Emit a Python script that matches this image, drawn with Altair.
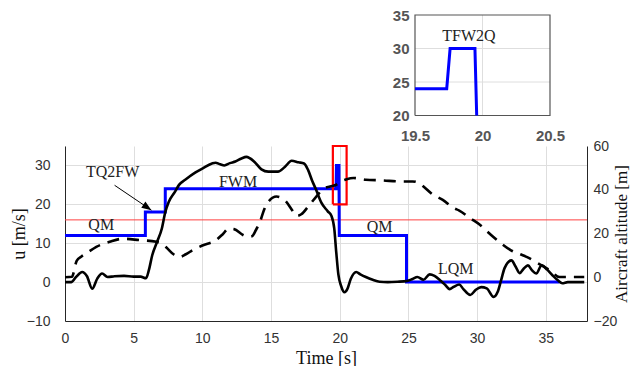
import altair as alt
import pandas as pd

# ---------------- data ----------------
# Airspeed u [m/s] (left axis, solid black)
u_t = [0, 0.45, 0.8, 1.25, 1.6, 1.98, 2.35, 2.7, 3.1, 3.6, 4.3, 5.0, 5.5, 5.9, 6.1, 6.35, 6.7, 7.05,
       7.3, 7.55, 8.0, 8.3, 8.75, 9.5, 10.0, 10.7, 10.95, 11.3, 11.6, 12.0, 12.4, 12.85, 13.2, 13.8,
       14.3, 14.8, 15.5, 16.0, 16.5, 17.0, 17.4, 17.7, 18.0, 18.25, 18.65, 19.13, 19.4, 19.6, 19.75,
       19.9, 20.1, 20.35, 20.55, 20.8, 21.2, 21.5, 21.9, 22.4, 22.9, 23.5, 24.2, 24.9, 25.3, 25.65,
       26.1, 26.55, 26.9, 27.3, 27.7, 28.0, 28.3, 28.7, 29.0, 29.5, 29.9, 30.3, 30.7, 31.2, 31.5,
       31.75, 32.0, 32.5, 32.8, 33.1, 33.4, 33.7, 34.0, 34.3, 34.7, 35.1, 35.5, 35.9, 36.2, 36.6, 37.8]
u_v = [0, 0, 1.3, 2.6, 1.5, -1.7, 0.9, 2.2, 1.3, 1.5, 1.6, 1.4, 1.4, 1.0, 3.0, 6.9, 10.3, 13.8,
       18.0, 20.6, 23.2, 25.0, 26.3, 28.2, 29.2, 30.5, 30.7, 30.3, 30.0, 30.6, 31.0, 31.8, 32.2, 30.9,
       29.0, 28.4, 28.4, 29.6, 31.2, 30.8, 30.5, 28.8, 26.0, 24.0, 20.5, 18.2, 17.0, 13.8, 7.5,
       2.0, -1.0, -2.6, -1.8, 0.8, 2.6, 2.0, 1.3, 0.6, 0.1, 0.0, 0.1, 0.3, 0.8, 1.3,
       0.6, 2.0, 1.6, 0.5, -0.8, -1.8, -1.2, -0.6, -1.8, -3.3, -2.0, -1.3, -1.6, -3.8, -2.5,
       0.5, 3.6, 5.6, 4.0, 2.3, 3.5, 4.3, 3.0, 2.2, 4.3, 3.2, 1.7, 0.4, -0.3, 0.0, 0.0]

# Aircraft altitude [m] (right axis, dashed black)
h_t = [0, 0.5, 0.85, 1.2, 1.55, 2.28, 3.25, 4.2, 5.4, 6.65, 7.0, 7.4, 7.9, 8.35, 8.8, 9.3, 10.0,
       11.0, 11.5, 11.9, 12.3, 12.96, 13.3, 13.6, 13.9, 14.2, 14.5, 14.8, 15.4, 15.7, 16.1, 16.5,
       16.85, 17.2, 17.7, 18.4, 18.8, 19.3, 19.75, 20.1, 20.5, 21.0, 21.9, 23.1, 24.4, 25.3, 25.8,
       26.1, 26.8, 27.5, 28.3, 28.7, 29.5, 30.2, 30.9, 31.65, 32.5, 33.1, 33.6, 34.6, 35.3, 36.0, 37.8]
h_v = [0, 0.2, 7.5, 9.5, 10.9, 13.9, 16.2, 17.6, 17.0, 16.2, 15.5, 13.5, 10.5, 9.3, 10.5, 12.4, 14.5,
       17.0, 19.8, 22.2, 22.0, 19.3, 18.5, 18.7, 21.6, 25.4, 31.0, 34.5, 36.9, 36.5, 34.6, 31.0,
       28.0, 28.8, 32.3, 37.7, 40.5, 41.5, 42.3, 43.8, 44.8, 45.4, 44.6, 44.3, 43.8, 43.8, 43.0,
       41.5, 37.7, 35.4, 31.6, 30.5, 27.0, 24.0, 20.0, 16.0, 12.2, 10.6, 9.3, 5.8, 3.2, 0.1, 0.1]

# Mode reference speed (blue step)
m_t = [0, 5.85, 5.85, 7.3, 7.3, 19.735, 19.76, 19.944, 19.967, 24.86, 24.86, 36.0]
m_v = [12, 12, 18, 18, 24, 24, 30, 30, 12, 12, 0, 0]

# Inset (zoom of the transition)
ins_t = [19.5, 19.735, 19.76, 19.944, 19.957]
ins_v = [24, 24, 30, 30, 20]

threshold_u = 16
box_t = [19.5, 20.5, 20.5, 19.5, 19.5]
box_u = [20, 20, 35, 35, 20]

label_text = ["QM", "TQ2FW", "FWM", "QM", "LQM"]
label_t = [2.64, 3.47, 12.6, 22.9, 28.45]
label_u = [14.6, 28.4, 25.8, 14.2, 3.5]

arrow_t = [3.61, 6.29]
arrow_u = [24.9, 18.5]

inset_label = ["TFW2Q"]
inset_label_t = [19.9]
inset_label_u = [31.9]

x_ticks = [0, 5, 10, 15, 20, 25, 30, 35]
yl_ticks = [-10, 0, 10, 20, 30]
yr_ticks = [-20, 0, 20, 40, 60]
ins_x_ticks = [19.5, 20, 20.5]
ins_y_ticks = [20, 25, 30, 35]
ins_grid_x = [20]
ins_grid_y = [25, 30]

# ---------------- layout ----------------
W, H = 522, 175
INS_X0, INS_X1 = 350, 485
INS_Y0, INS_Y1 = -30.5, -131

SANS = "Liberation Sans"
SERIF = "Liberation Serif"
AX = "#262626"
GRID = "#dedede"

xs = alt.Scale(domain=[0, 38], nice=False, zero=False)
yls = alt.Scale(domain=[-10, 35], nice=False, zero=False)
yrs = alt.Scale(domain=[-20, 60], nice=False, zero=False)
ixs = alt.Scale(domain=[19.5, 20.5], range=[INS_X0, INS_X1], nice=False, zero=False)
iys = alt.Scale(domain=[20, 35], range=[INS_Y0, INS_Y1], nice=False, zero=False)

x_axis = alt.Axis(values=x_ticks, orient="bottom", title="Time [s]", grid=True, gridColor=GRID,
                  ticks=False, domainColor=AX, labelFont=SANS, labelFontSize=14, labelColor="#333333",
                  labelPadding=10, labelFlush=False, titleFont=SERIF, titleFontSize=18,
                  titleFontWeight="normal", titleColor="#111111", titleX=261, titleY=37,
                  titleBaseline="middle", titleAlign="center")
yl_axis = alt.Axis(values=yl_ticks, orient="left", title="u [m/s]", grid=True, gridColor=GRID,
                   ticks=False, domainColor=AX, labelFont=SANS, labelFontSize=14, labelColor="#333333",
                   labelPadding=15, titleFont=SERIF, titleFontSize=18, titleFontWeight="normal",
                   titleColor="#111111", titleAngle=270, titleX=-46, titleY=87.5,
                   titleBaseline="middle", titleAlign="center")
yr_axis = alt.Axis(values=yr_ticks, orient="right", title="Aircraft altitude [m]", grid=False,
                   ticks=False, domainColor=AX, labelFont=SANS, labelFontSize=14, labelColor="#333333",
                   labelPadding=6, titleFont=SERIF, titleFontSize=17, titleFontWeight="normal",
                   titleColor="#111111", titleAngle=270, titleX=34, titleY=87.5,
                   titleBaseline="middle", titleAlign="center")
ix_axis = alt.Axis(values=ins_x_ticks, orient="bottom", title=None, grid=False, ticks=False,
                   domain=False, format="~g", labelFont=SANS, labelFontSize=15, labelFontWeight="bold",
                   labelColor="#555555", labelPadding=13, labelFlush=False, offset=INS_Y0 - H)
iy_axis = alt.Axis(values=ins_y_ticks, orient="left", title=None, grid=False, ticks=False,
                   domain=False, labelFont=SANS, labelFontSize=15, labelFontWeight="bold",
                   labelColor="#555555", labelPadding=6, offset=-INS_X0)

# ---------------- main, left axis ----------------
df_u = pd.DataFrame({"t": u_t, "u": u_v})
df_u["index"] = range(len(df_u))
df_m = pd.DataFrame({"t": m_t, "u": m_v})
df_m["index"] = range(len(df_m))
df_thr = pd.DataFrame({"t": [0, 38], "u": [threshold_u, threshold_u]})
df_box = pd.DataFrame({"t": box_t, "u": box_u, "index": range(len(box_t))})
df_lab = pd.DataFrame({"t": label_t, "u": label_u, "text": label_text})
df_arrow = pd.DataFrame({"t": arrow_t, "u": arrow_u})
df_head = pd.DataFrame({"t": [arrow_t[1]], "u": [arrow_u[1]]})

X = alt.X("t:Q", scale=xs, axis=x_axis)
YL = alt.Y("u:Q", scale=yls, axis=yl_axis)

thr = alt.Chart(df_thr).mark_line(color="#ff4040", strokeWidth=1).encode(x=X, y=YL)
blue = alt.Chart(df_m).mark_line(color="#0000ff", strokeWidth=3).encode(x=X, y=YL, order="index:Q")
speed = alt.Chart(df_u).mark_line(color="#000000", strokeWidth=2.6, interpolate="monotone").encode(
    x=X, y=YL, order="index:Q")
box = alt.Chart(df_box).mark_line(color="#ff0000", strokeWidth=2.2).encode(x=X, y=YL, order="index:Q")
labels = alt.Chart(df_lab).mark_text(font=SERIF, fontSize=16, color="#222222").encode(
    x=X, y=YL, text="text:N")
arrow = alt.Chart(df_arrow).mark_line(color="#000000", strokeWidth=1).encode(x=X, y=YL)
head = alt.Chart(df_head).mark_point(shape="M0,0L-0.38,1L0.38,1Z", filled=True, fill="#000000",
                                      strokeWidth=0, size=380, angle=124.3, opacity=1).encode(x=X, y=YL)

left = alt.layer(thr, blue, speed, box, labels, arrow, head)

# ---------------- main, right axis ----------------
df_h = pd.DataFrame({"t": h_t, "h": h_v})
df_h["index"] = range(len(df_h))
right = alt.Chart(df_h).mark_line(color="#000000", strokeWidth=2.6, strokeDash=[12, 8],
                                  interpolate="monotone").encode(
    x=alt.X("t:Q", scale=xs, axis=None),
    y=alt.Y("h:Q", scale=yrs, axis=yr_axis),
    order="index:Q")

# ---------------- inset ----------------
df_ins = pd.DataFrame({"t": ins_t, "u": ins_v})
df_ins["index"] = range(len(df_ins))
IX = alt.X("t:Q", scale=ixs, axis=ix_axis)
IY = alt.Y("u:Q", scale=iys, axis=iy_axis)

grid_rows = []
for gx in ins_grid_x:
    grid_rows += [{"g": f"x{gx}", "t": gx, "u": 20, "i": 0}, {"g": f"x{gx}", "t": gx, "u": 35, "i": 1}]
for gy in ins_grid_y:
    grid_rows += [{"g": f"y{gy}", "t": 19.5, "u": gy, "i": 0}, {"g": f"y{gy}", "t": 20.5, "u": gy, "i": 1}]
igrid = alt.Chart(pd.DataFrame(grid_rows)).mark_line(color=GRID, strokeWidth=1).encode(
    x=IX, y=IY, detail="g:N", order="i:Q")
iframe = alt.Chart(pd.DataFrame({"t": box_t, "u": box_u, "index": range(len(box_t))})).mark_line(
    color="#555555", strokeWidth=1.2).encode(x=IX, y=IY, order="index:Q")
iblue = alt.Chart(df_ins).mark_line(color="#0000ff", strokeWidth=3).encode(x=IX, y=IY, order="index:Q")
ilab = alt.Chart(pd.DataFrame({"t": inset_label_t, "u": inset_label_u, "text": inset_label})).mark_text(
    font=SERIF, fontSize=16, color="#222222").encode(x=IX, y=IY, text="text:N")
inset = alt.layer(igrid, iframe, iblue, ilab)

chart = alt.layer(left, right, inset).resolve_scale(x="independent", y="independent").properties(
    width=W, height=H,
    autosize=alt.AutoSizeParams(type="none"),
    padding={"left": 57, "top": 138, "right": 43, "bottom": 45},
).configure_view(stroke=None)

chart.save("out.html", embed_options={"renderer": "svg", "actions": False})
